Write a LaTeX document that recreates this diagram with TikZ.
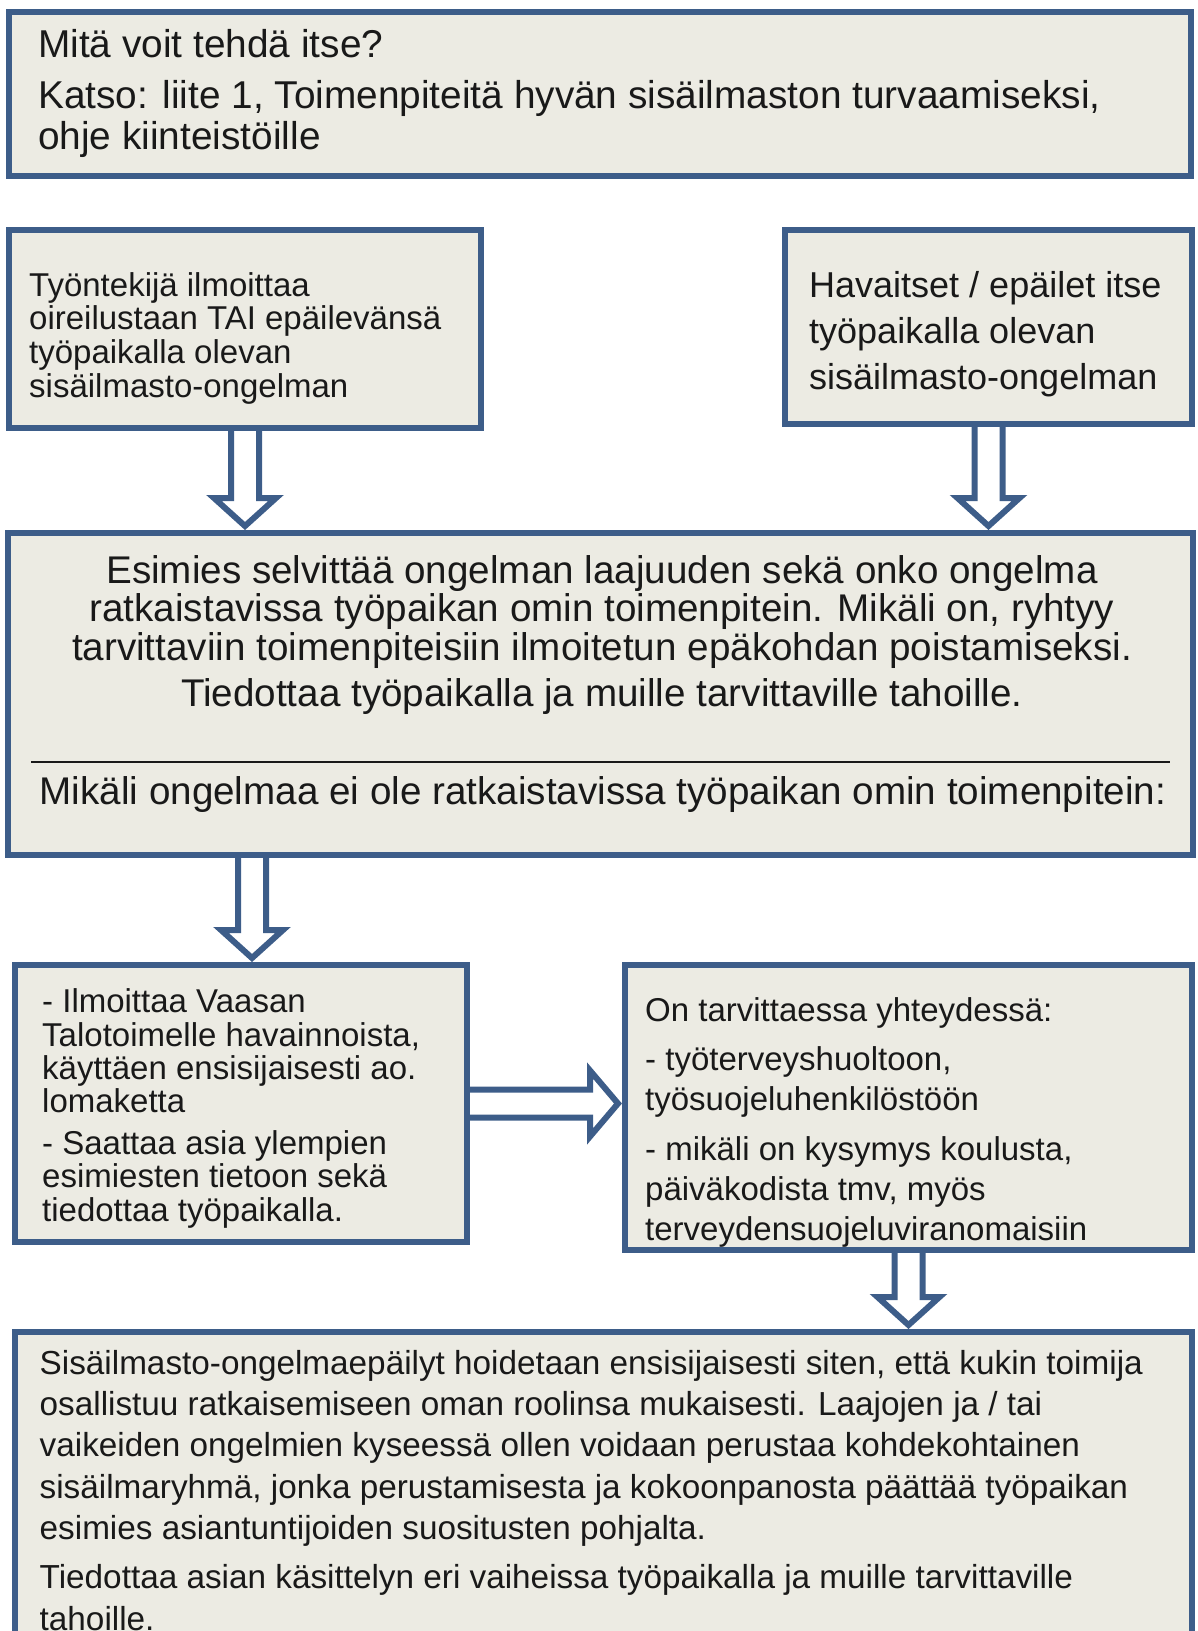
\documentclass[tikz,border=0pt]{standalone}
\usepackage{fontspec}
\setmainfont{Liberation Sans}
\usetikzlibrary{calc,backgrounds}
\definecolor{boxblue}{RGB}{61,93,137}
\definecolor{boxfill}{RGB}{236,235,227}
\definecolor{inktext}{RGB}{25,25,25}
\newcommand{\hollowdown}[2]{%
  \draw[hollow] let \p1=(#1),\p2=(#2) in
    (\x1-14pt,\y1)--(\x1-14pt,\y2+35pt)--(\x1-31pt,\y2+35pt)--(\x1,\y2+7pt)
    --(\x1+31pt,\y2+35pt)--(\x1+14pt,\y2+35pt)--(\x1+14pt,\y1);}
\newcommand{\hollowright}[2]{%
  \draw[hollow] let \p1=(#1),\p2=(#2) in
    (\x1,\y1+14pt)--(\x2-35pt,\y1+14pt)--(\x2-35pt,\y1+33pt)--(\x2-7pt,\y1)
    --(\x2-35pt,\y1-33pt)--(\x2-35pt,\y1-14pt)--(\x1,\y1-14pt);}

\begin{document}
\begin{tikzpicture}[x=1pt,y=-1pt,
    box/.style={draw=boxblue,fill=boxfill,line width=6pt,inner sep=0pt,outer sep=0pt},
    hollow/.style={draw=boxblue,fill=white,line width=6pt},
    txt/.style={inner sep=0pt,text=inktext,align=left,anchor=base west}]
\useasboundingbox (0,0) rectangle (1198,1631);
\clip (0,0) rectangle (1198,1631);
\node[box,minimum width=1182pt,minimum height=164pt] (b1) at (600,94) {};
\node[box,minimum width=472pt,minimum height=198pt] (b2) at (245,329) {};
\node[box,minimum width=407pt,minimum height=194pt] (b3) at (988.5,327) {};
\node[box,minimum width=1185pt,minimum height=322pt] (b4) at (600.5,694) {};
\node[box,minimum width=452pt,minimum height=277pt] (b5) at (241,1103.5) {};
\node[box,minimum width=567pt,minimum height=285pt] (b6) at (908.5,1107.5) {};
\node[box,minimum width=1177pt,minimum height=368pt] (b7) at (603.5,1516) {};
\coordinate (a3) at (252,855);

\node[txt,font=\fontsize{38.8}{41}\selectfont] (t1) at (38,149)
  {Mitä voit tehdä itse?\\[10pt]Katso: liite 1, Toimenpiteitä hyvän sisäilmaston turvaamiseksi,\\ohje kiinteistöille};
\node[txt,font=\fontsize{33}{33.6}\selectfont] (t2) at (29,397)
  {Työntekijä ilmoittaa\\oireilustaan TAI epäilevänsä\\työpaikalla olevan\\sisäilmasto-ongelman};
\node[txt,font=\fontsize{36}{45.8}\selectfont] (t3) at (809,389)
  {Havaitset / epäilet itse\\työpaikalla olevan\\sisäilmasto-ongelman};
\node[txt,align=center,anchor=base,font=\fontsize{38.6}{38.5}\selectfont] (t4) at (602,706)
  {Esimies selvittää ongelman laajuuden sekä onko ongelma\\ratkaistavissa työpaikan omin toimenpitein. Mikäli on, ryhtyy\\tarvittaviin toimenpiteisiin ilmoitetun epäkohdan poistamiseksi.\\[7.5pt]Tiedottaa työpaikalla ja muille tarvittaville tahoille.};
\draw[line width=2.5pt,inktext] (31,762) -- (1170,762);
\node[txt,anchor=base,font=\fontsize{38.6}{38.5}\selectfont] (t4b) at (603,804)
  {Mikäli ongelmaa ei ole ratkaistavissa työpaikan omin toimenpitein:};
\node[txt,font=\fontsize{33}{33.3}\selectfont] (t5) at (42,1221)
  {- Ilmoittaa Vaasan\\Talotoimelle havainnoista,\\käyttäen ensisijaisesti ao.\\lomaketta\\[8.3pt]- Saattaa asia ylempien\\esimiesten tietoon sekä\\tiedottaa työpaikalla.};
\node[txt,font=\fontsize{33}{40}\selectfont] (t6) at (645,1240)
  {On tarvittaessa yhteydessä:\\[9pt]- työterveyshuoltoon,\\työsuojeluhenkilöstöön\\[10pt]- mikäli on kysymys koulusta,\\päiväkodista tmv, myös\\terveydensuojeluviranomaisiin};
\node[txt,font=\fontsize{33.3}{41.3}\selectfont] (t7) at (39.5,1630)
  {Sisäilmasto-ongelmaepäilyt hoidetaan ensisijaisesti siten, että kukin toimija\\osallistuu ratkaisemiseen oman roolinsa mukaisesti. Laajojen ja / tai\\vaikeiden ongelmien kyseessä ollen voidaan perustaa kohdekohtainen\\sisäilmaryhmä, jonka perustamisesta ja kokoonpanosta päättää työpaikan\\esimies asiantuntijoiden suositusten pohjalta.\\[8pt]Tiedottaa asian käsittelyn eri vaiheissa työpaikalla ja muille tarvittaville\\tahoille.};

\begin{pgfonlayer}{background}
\hollowdown{b2.south}{b4.north}
\hollowdown{b3.south}{b4.north}
\hollowdown{a3}{b5.north}
\hollowright{b5.east}{b6.west}
\hollowdown{b6.south}{b7.north}
\end{pgfonlayer}
\end{tikzpicture}
\end{document}
